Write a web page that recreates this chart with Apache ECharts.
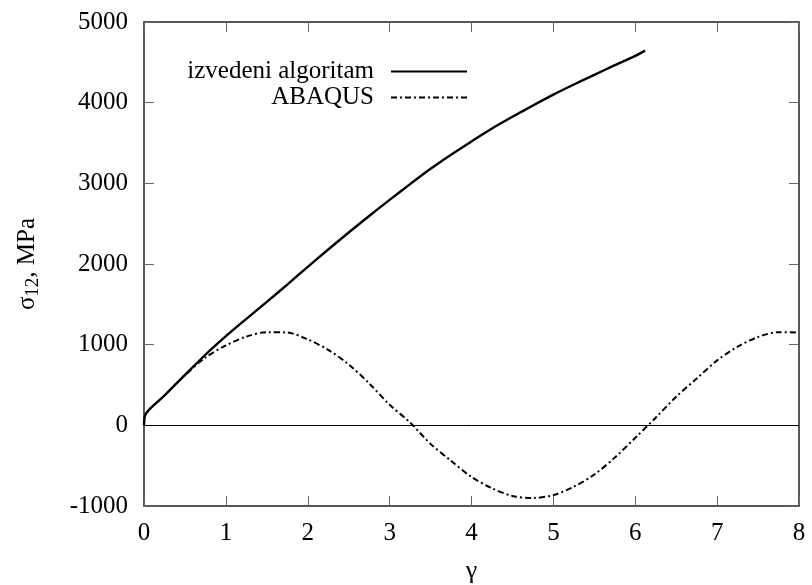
<!DOCTYPE html>
<html><head><meta charset="utf-8">
<script src="https://cdn.jsdelivr.net/npm/echarts@6/dist/echarts.min.js"></script>
<style>html,body{margin:0;padding:0;background:#fff}#c{width:812px;height:585px}</style>
</head><body><div id="c"></div>
<script>
var seriesNames = ['izvedeni algoritam', 'ABAQUS'];
var gammaAlg = [0, 0.02, 0.25, 0.5, 0.75, 1.0, 1.25, 1.5, 1.75, 2.0, 2.25, 2.5, 2.75, 3.0, 3.25, 3.5, 3.75, 4.0, 4.25, 4.5, 4.75, 5.0, 5.25, 5.5, 5.75, 6.0, 6.12];
var sigmaAlg = [0, 140, 370, 625, 875, 1105, 1320, 1530, 1745, 1965, 2180, 2390, 2595, 2795, 2990, 3180, 3355, 3520, 3680, 3825, 3965, 4100, 4225, 4345, 4465, 4580, 4645];
var gammaAbq = [0, 0.02, 0.25, 0.5, 0.75, 1.0, 1.25, 1.5, 1.75, 2.0, 2.25, 2.5, 2.75, 3.0, 3.25, 3.5, 3.75, 4.0, 4.25, 4.5, 4.75, 5.0, 5.25, 5.5, 5.75, 6.0, 6.25, 6.5, 6.75, 7.0, 7.25, 7.5, 7.75, 8.0];
var sigmaAbq = [0, 140, 370, 620, 840, 990, 1100, 1155, 1150, 1065, 935, 755, 520, 255, 35, -230, -440, -640, -780, -875, -900, -865, -760, -610, -400, -155, 95, 355, 580, 805, 975, 1095, 1155, 1150];
var xTicks = {min: 0, max: 8, interval: 1};
var yTicks = {min: -1000, max: 5000, interval: 1000};

function pairs(xs, ys) { return xs.map(function (x, i) { return [x, ys[i]]; }); }
var FONT = '"Liberation Serif", "Times New Roman", serif';
var chart = echarts.init(document.getElementById('c'));
var tickStyle = {show: true, inside: true, length: 10, lineStyle: {color: '#666', width: 1}};
var axisLineStyle = {show: true, onZero: false, lineStyle: {color: '#222', width: 1.5}};
function legendFor(name, top) {
  return {data: [name], right: 339, top: top, orient: 'vertical', align: 'right',
    itemWidth: 76, itemHeight: 12, itemStyle: {opacity: 0},
    textStyle: {fontFamily: FONT, fontSize: 25, color: '#000', padding: [0, 12, 0, 0]}};
}
chart.setOption({
  animation: false,
  backgroundColor: '#fff',
  textStyle: {fontFamily: FONT},
  grid: {left: 144, right: 13, top: 22, bottom: 79, containLabel: false, outerBoundsMode: 'none'},
  legend: [legendFor(seriesNames[0], 54), legendFor(seriesNames[1], 80)],
  xAxis: [
    {type: 'value', min: xTicks.min, max: xTicks.max, interval: xTicks.interval, position: 'bottom',
     name: 'γ', nameLocation: 'middle', nameGap: 52,
     nameTextStyle: {fontFamily: FONT, fontSize: 26, color: '#000'},
     axisLine: axisLineStyle, axisTick: tickStyle, splitLine: {show: false},
     axisLabel: {fontFamily: FONT, fontSize: 25, color: '#000', margin: 15, formatter: function (v) { return String(v); }}},
    {type: 'value', min: xTicks.min, max: xTicks.max, interval: xTicks.interval, position: 'top',
     axisLine: axisLineStyle, axisTick: tickStyle, splitLine: {show: false}, axisLabel: {show: false}}
  ],
  yAxis: [
    {type: 'value', min: yTicks.min, max: yTicks.max, interval: yTicks.interval, position: 'left',
     name: '{a|σ}{s|12}{a|, MPa}', nameLocation: 'middle', nameGap: 101, nameRotate: 90,
     nameTextStyle: {rich: {a: {fontFamily: FONT, fontSize: 25, color: '#000'},
                            s: {fontFamily: FONT, fontSize: 19, color: '#000', padding: [12, 0, 0, 0]}}},
     axisLine: axisLineStyle, axisTick: tickStyle, splitLine: {show: false},
     axisLabel: {fontFamily: FONT, fontSize: 25, color: '#000', margin: 16, formatter: function (v) { return String(v); }}},
    {type: 'value', min: yTicks.min, max: yTicks.max, interval: yTicks.interval, position: 'right',
     axisLine: axisLineStyle, axisTick: tickStyle, splitLine: {show: false}, axisLabel: {show: false}}
  ],
  series: [
    {name: seriesNames[0], type: 'line', data: pairs(gammaAlg, sigmaAlg), smooth: 0.3,
     symbol: 'none', lineStyle: {color: '#000', width: 2.4}, itemStyle: {color: '#000'},
     markLine: {silent: true, symbol: 'none', label: {show: false},
                lineStyle: {color: '#000', width: 1, type: 'solid'}, data: [{yAxis: 0}]}},
    {name: seriesNames[1], type: 'line', data: pairs(gammaAbq, sigmaAbq), smooth: 0.3,
     symbol: 'none', lineStyle: {color: '#000', width: 2, type: [6, 3, 2, 3]}, itemStyle: {color: '#000'}}
  ]
});
</script></body></html>
